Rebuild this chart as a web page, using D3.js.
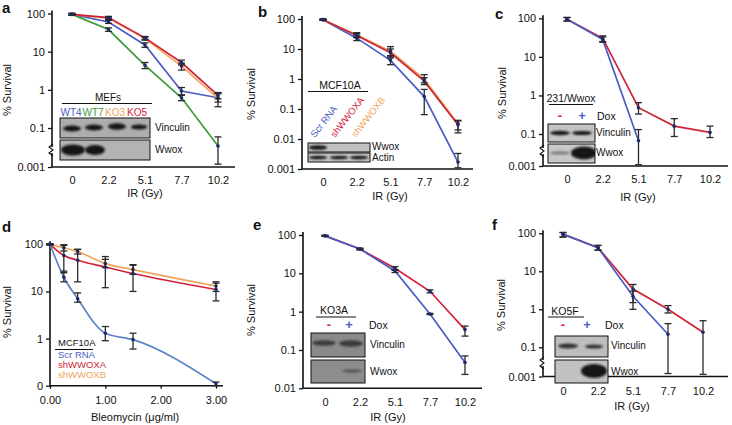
<!DOCTYPE html>
<html><head><meta charset="utf-8">
<script src="https://cdn.jsdelivr.net/npm/d3@7"></script>
<style>body{margin:0;background:#fff}svg{display:block}text{font-family:"Liberation Sans",Arial,sans-serif}</style>
</head><body><svg id="c" width="732" height="425"></svg>
<script>
// ---------- data ----------
const irDoses = ["0","2.2","5.1","7.7","10.2"];
const bleoDoses = [0, 0.25, 0.5, 1, 1.5, 3];

const yTicksBreak = [100, 10, 1, 0.1, 0.001];
const yLabelsBreak = ["100", "10", "1", "0.1", "0.001"];
const yTicksFull = [100, 10, 1, 0.1, 0.01, 0.001];
const yLabelsFull = ["100", "10", "1", "0.1", "0.01", "0.001"];
const yTicksE = [100, 10, 1, 0.1, 0.01];
const yLabelsE = ["100", "10", "1", "0.1", "0.01"];
const yTicksD = [100, 10, 1, 0.1];
const yLabelsD = ["100", "10", "1", "0"];
const xTicksD = [0, 1, 2, 3];
const xLabelsD = ["0.00", "1.00", "2.00", "3.00"];

// panel a (MEFs)
const aWT4 = [95, 60, 15, 0.93, 0.62];
const aWT4Err = [[90,100],[55,66],[13,17],[0.72,1.15],[0.48,0.8]];
const aWT7 = [95, 38, 4.4, 0.62, 0.012];
const aWT7Err = [[90,100],[34,42],[3.6,5.2],[0.52,0.74],[0.0014,0.035]];
const aKO3 = [95, 75, 22, 4.2, 0.6];
const aKO3Err = [[90,100],[70,80],[20,24],[3.3,5],[0.36,0.8]];
const aKO5 = [95, 78, 23, 5.2, 0.72];
const aKO5Err = [[90,100],[72,84],[21,25],[4.5,6],[0.58,0.85]];

// panel b (MCF10A)
const bScr = [95, 23, 4.2, 0.26, 0.0017];
const bScrErr = [[91,99],[19,29],[3,5.5],[0.065,0.45],[0.0011,0.0033]];
const bShA = [95, 28, 7.5, 0.85, 0.03];
const bShAErr = [[91,99],[24,33],[5,10],[0.65,1.1],[0.016,0.04]];
const bShB = [95, 30, 8.5, 1.0, 0.032];
const bShBErr = [[91,99],[25,35],[6,12],[0.75,1.4],[0.02,0.042]];

// panel c (231/Wwox)
const cMinus = [95, 30, 0.48, 0.16, 0.11];
const cMinusErr = [[85,105],[25,35],[0.33,0.65],[0.07,0.25],[0.06,0.16]];
const cPlus = [95, 28, 0.038, null, null];
const cPlusErr = [[85,105],[24,33],[0.0012,0.13],null,null];

// panel d (bleomycin)
const dScr = [100, 20, 7, 1.3, 0.95, 0.11];
const dScrErr = [[98,102],[16,27],[5.9,9.3],[0.9,1.8],[0.6,1.3],[0.1,0.12]];
const dShA = [100, 58, 46, 33, 24, 11];
const dShAErr = [[98,102],[25,95],[16,78],[12,55],[10,37],[6.3,15]];
const dShB = [100, 85, 70, 39, 29, 13];
const dShBErr = [[98,102],[72,98],[62,78],[32,48],[23,36],[10,16]];

// panel e (KO3A)
const eMinus = [95, 43, 13.5, 3.4, 0.34];
const eMinusErr = [[92,98],[41,45],[12,15],[3.1,3.7],[0.23,0.42]];
const ePlus = [95, 43, 11.5, 0.87, 0.047];
const ePlusErr = [[92,98],[41,45],[10.5,12.5],[0.84,0.9],[0.023,0.07]];

// panel f (KO5F)
const fMinus = [95, 42, 3.4, 1.0, 0.25];
const fMinusErr = [[80,105],[36,48],[1.0,4.5],[0.8,1.25],[0.0014,0.5]];
const fPlus = [95, 42, 2.2, 0.22, null];
const fPlusErr = [[80,105],[36,48],[1.5,3],[0.0016,0.42],null];

// ---------- styles ----------
const BLUE = "#4a5cc0", RED = "#d02338", ORANGE = "#f0a55c", GREEN = "#3d9a3d";
const INK = "#111";

const svg = d3.select("#c");
const defs = svg.append("defs");
defs.append("filter").attr("id","blur").attr("x","-50%").attr("y","-100%").attr("width","200%").attr("height","300%")
  .append("feGaussianBlur").attr("stdDeviation", 1.1);

function drawPanel(p) {
  const g = svg.append("g");
  const y = d3.scaleLog().domain(p.yDomain).range(p.yRange);
  const x = p.linear
    ? d3.scaleLinear().domain([0, 3]).range(p.xRange)
    : d3.scalePoint().domain(irDoses).range(p.xRange);
  const xs = p.linear ? bleoDoses : irDoses;
  const yBot = p.yRange[0], yTop = p.yRange[p.yRange.length - 1];

  const ya = g.append("g").attr("transform", `translate(${p.ax},0)`)
    .call(d3.axisLeft(y).tickValues(p.yTicks).tickFormat((d, i) => p.yLabels[i]).tickSize(4).tickPadding(3));
  ya.select(".domain").remove();
  ya.selectAll("text").attr("font-size", 11).attr("fill", INK).attr("font-family", "Liberation Sans, Arial, sans-serif");
  ya.selectAll("line").attr("stroke", INK).attr("stroke-width", 1.3);
  g.append("line").attr("x1", p.ax).attr("x2", p.ax).attr("y1", yTop - 3).attr("y2", yBot)
    .attr("stroke", INK).attr("stroke-width", 1.6);

  g.append("line").attr("x1", p.ax).attr("x2", p.xEnd).attr("y1", yBot).attr("y2", yBot)
    .attr("stroke", INK).attr("stroke-width", 1.6);
  let xAxis = d3.axisBottom(x).tickSize(p.linear ? 3 : 0).tickPadding(p.xPad);
  if (p.linear) xAxis = xAxis.tickValues(xTicksD).tickFormat((d, i) => xLabelsD[i]);
  const xa = g.append("g").attr("transform", `translate(0,${yBot})`).call(xAxis);
  xa.select(".domain").remove();
  xa.selectAll("text").attr("font-size", 11).attr("fill", INK).attr("font-family", "Liberation Sans, Arial, sans-serif");
  xa.selectAll("line").attr("stroke", INK).attr("stroke-width", 1.3);

  g.append("text").attr("x", p.xTitle[0]).attr("y", p.xTitle[1]).attr("text-anchor", "middle")
    .attr("dominant-baseline", "middle").attr("font-size", 11).attr("fill", INK).text(p.xTitleText);
  g.append("text").attr("transform", `translate(${p.yTitle[0]},${p.yTitle[1]}) rotate(-90)`)
    .attr("text-anchor", "middle").attr("dominant-baseline", "middle").attr("font-size", 11).attr("fill", INK)
    .text("% Survival");
  g.append("text").attr("x", p.label[0]).attr("y", p.label[1]).attr("font-size", 15)
    .attr("font-weight", "bold").attr("fill", INK).text(p.labelText);

  if (p.breakY) {
    const by = p.breakY, bx = p.ax;
    g.append("rect").attr("x", bx - 2).attr("y", by - 3).attr("width", 4).attr("height", 6).attr("fill", "#fff");
    g.append("path").attr("d", `M${bx+1},${by-6} L${bx-3},${by-3} L${bx+1},${by} L${bx-3},${by+3} L${bx+1},${by+6}`)
      .attr("fill", "none").attr("stroke", INK).attr("stroke-width", 1.1);
  }

  if (p.inset) p.inset(g);

  p.series.forEach(s => {
    const pts = xs.map((xv, i) => ({ x: xv, v: s.vals[i], e: s.err[i] })).filter(d => d.v != null);
    const line = d3.line().x(d => x(d.x)).y(d => y(d.v)).curve(p.curve || d3.curveLinear);
    g.append("path").attr("d", line(pts)).attr("fill", "none").attr("stroke", s.color).attr("stroke-width", 1.7);
    s._pts = pts;
  });
  p.series.forEach(s => {
    s._pts.forEach(d => {
      if (!d.e) return;
      const cx = x(d.x), y1 = y(d.e[0]), y2 = y(d.e[1]);
      g.append("line").attr("x1", cx).attr("x2", cx).attr("y1", y1).attr("y2", y2).attr("stroke", "#2a2a2a").attr("stroke-width", 1.3);
      [y1, y2].forEach(yy => g.append("line").attr("x1", cx - 3.5).attr("x2", cx + 3.5).attr("y1", yy).attr("y2", yy)
        .attr("stroke", "#2a2a2a").attr("stroke-width", 1.3));
    });
    g.selectAll(null).data(s._pts).enter().append("circle")
      .attr("cx", d => x(d.x)).attr("cy", d => y(d.v)).attr("r", 1.8).attr("fill", s.dot || "#1d2a6a");
  });
}

let clipId = 0;
function blot(g, b) {
  const id = "clip" + (clipId++);
  defs.append("clipPath").attr("id", id).append("rect").attr("x", b.x).attr("y", b.y).attr("width", b.w).attr("height", b.h);
  g.append("rect").attr("x", b.x).attr("y", b.y).attr("width", b.w).attr("height", b.h).attr("fill", b.fill || "#b8b8b8");
  const bg = g.append("g").attr("clip-path", `url(#${id})`);
  b.bands.forEach(d => bg.append("ellipse").attr("cx", d.x).attr("cy", d.y).attr("rx", d.rx).attr("ry", d.ry)
    .attr("fill", d.c || "#151515").attr("filter", "url(#blur)"));
  g.append("rect").attr("x", b.x).attr("y", b.y).attr("width", b.w).attr("height", b.h)
    .attr("fill", "none").attr("stroke", INK).attr("stroke-width", 1);
  g.append("text").attr("x", b.lx).attr("y", b.ly).attr("dominant-baseline", "middle").attr("font-size", 10)
    .attr("fill", INK).text(b.label);
}
function txt(g, t, x, y, opts = {}) {
  return g.append("text").attr("x", x).attr("y", y).attr("dominant-baseline", "middle")
    .attr("text-anchor", opts.anchor || "middle").attr("font-size", opts.size || 10)
    .attr("fill", opts.color || INK).text(t);
}
function hline(g, x1, x2, y) {
  g.append("line").attr("x1", x1).attr("x2", x2).attr("y1", y).attr("y2", y).attr("stroke", INK).attr("stroke-width", 1);
}
function dox(g, xm, xp, xd, y) {
  txt(g, "-", xm, y, { color: RED, size: 13 }).attr("font-weight", "bold");
  txt(g, "+", xp, y, { color: BLUE, size: 13 }).attr("font-weight", "bold");
  txt(g, "Dox", xd, y, { anchor: "start", size: 10.5 });
}

// ---------- panels ----------
drawPanel({
  labelText: "a", label: [2, 13], ax: 52,
  yDomain: [0.001, 0.1, 100], yRange: [167, 128, 13.5], yTicks: yTicksBreak, yLabels: yLabelsBreak,
  xRange: [72, 218], xEnd: 235, xPad: 9, xTitle: [145, 194], xTitleText: "IR (Gy)", yTitle: [8, 90], breakY: 150,
  series: [
    { vals: aWT4, err: aWT4Err, color: BLUE },
    { vals: aWT7, err: aWT7Err, color: GREEN },
    { vals: aKO3, err: aKO3Err, color: ORANGE },
    { vals: aKO5, err: aKO5Err, color: RED }
  ],
  inset: g => {
    txt(g, "MEFs", 108, 98, { size: 10 });
    hline(g, 62, 152, 103.5);
    [["WT4", 71, BLUE], ["WT7", 93, GREEN], ["KO3", 115, ORANGE], ["KO5", 137, RED]]
      .forEach(([t, x, c]) => txt(g, t, x, 113, { color: c, size: 10 }));
    blot(g, { x: 60, y: 118, w: 90, h: 20, fill: "#adadad", label: "Vinculin", lx: 155, ly: 128,
      bands: [{ x: 72, y: 128.5, rx: 9, ry: 3 }, { x: 94, y: 127.5, rx: 9, ry: 3 }, { x: 117, y: 126.5, rx: 9, ry: 3.2 }, { x: 139, y: 127, rx: 8, ry: 2.5 }] });
    blot(g, { x: 60, y: 140, w: 90, h: 20, fill: "#b3b3b3", label: "Wwox", lx: 155, ly: 150,
      bands: [{ x: 73, y: 150, rx: 12, ry: 5.5 }, { x: 95, y: 150, rx: 10, ry: 5 }] });
  }
});

drawPanel({
  labelText: "b", label: [258, 17], ax: 302,
  yDomain: [0.001, 100], yRange: [169, 19], yTicks: yTicksFull, yLabels: yLabelsFull,
  xRange: [323, 458], xEnd: 473, xPad: 9, xTitle: [390, 197], xTitleText: "IR (Gy)", yTitle: [252, 94],
  series: [
    { vals: bScr, err: bScrErr, color: BLUE },
    { vals: bShB, err: bShBErr, color: ORANGE },
    { vals: bShA, err: bShAErr, color: RED }
  ],
  inset: g => {
    txt(g, "MCF10A", 340, 86, { size: 10.5 });
    hline(g, 308, 368, 91.5);
    [["Scr RNA", 315, BLUE], ["shWWOXA", 335, RED], ["shWWOXB", 356, ORANGE]].forEach(([t, x, c]) =>
      g.append("text").attr("transform", `translate(${x},138) rotate(-52)`).attr("font-size", 9.5).attr("fill", c).text(t));
    blot(g, { x: 308, y: 143, w: 62, h: 9, fill: "#c2c2c2", label: "Wwox", lx: 372, ly: 147.5,
      bands: [{ x: 318, y: 147.5, rx: 9, ry: 2.3 }] });
    blot(g, { x: 308, y: 153, w: 62, h: 9, fill: "#c2c2c2", label: "Actin", lx: 372, ly: 158,
      bands: [{ x: 318, y: 157.5, rx: 9, ry: 1.8 }, { x: 339, y: 157.5, rx: 9, ry: 1.8 }, { x: 359, y: 157.5, rx: 9, ry: 1.8 }] });
  }
});

drawPanel({
  labelText: "c", label: [495, 19], ax: 543,
  yDomain: [0.001, 0.1, 100], yRange: [166, 134, 18.3], yTicks: yTicksBreak, yLabels: yLabelsBreak,
  xRange: [567, 710], xEnd: 728, xPad: 9, xTitle: [638, 198], xTitleText: "IR (Gy)", yTitle: [503, 93], breakY: 151,
  series: [
    { vals: cMinus, err: cMinusErr, color: RED },
    { vals: cPlus, err: cPlusErr, color: BLUE }
  ],
  inset: g => {
    txt(g, "231/Wwox", 571, 99.5, { size: 10.5 });
    hline(g, 549, 593, 104.5);
    dox(g, 560, 582, 597, 117);
    blot(g, { x: 548, y: 124, w: 47, h: 18, fill: "#c4c4c4", label: "Vinculin", lx: 596, ly: 133,
      bands: [{ x: 560, y: 133, rx: 10, ry: 2.2 }, { x: 582, y: 133, rx: 10, ry: 2 }] });
    blot(g, { x: 548, y: 144, w: 47, h: 19, fill: "#c8c8c8", label: "Wwox", lx: 596, ly: 153,
      bands: [{ x: 560, y: 153, rx: 10, ry: 1.6, c: "#7a7a7a" }, { x: 584, y: 153, rx: 13, ry: 6.5 }] });
  }
});

drawPanel({
  labelText: "d", label: [2, 232], ax: 50, linear: true, curve: d3.curveMonotoneX,
  yDomain: [0.1, 100], yRange: [385.7, 244.3], yTicks: yTicksD, yLabels: yLabelsD,
  xRange: [50, 216], xEnd: 223, xPad: 8, xTitle: [135, 418], xTitleText: "Bleomycin (μg/ml)", yTitle: [8, 312],
  series: [
    { vals: dShB, err: dShBErr, color: ORANGE },
    { vals: dShA, err: dShAErr, color: RED },
    { vals: dScr, err: dScrErr, color: "#5b86c8" }
  ],
  inset: g => {
    txt(g, "MCF10A", 58, 343, { anchor: "start", size: 9.5 });
    hline(g, 55, 93, 349.5);
    txt(g, "Scr RNA", 58, 355.5, { anchor: "start", size: 9.5, color: BLUE });
    txt(g, "shWWOXA", 58, 365.5, { anchor: "start", size: 9.5, color: RED });
    txt(g, "shWWOXB", 58, 375.5, { anchor: "start", size: 9.5, color: ORANGE });
  }
});

drawPanel({
  labelText: "e", label: [253, 230], ax: 303,
  yDomain: [0.01, 100], yRange: [388.3, 235], yTicks: yTicksE, yLabels: yLabelsE,
  xRange: [325, 465], xEnd: 482, xPad: 10, xTitle: [388, 418], xTitleText: "IR (Gy)", yTitle: [252, 310],
  series: [
    { vals: eMinus, err: eMinusErr, color: RED },
    { vals: ePlus, err: ePlusErr, color: BLUE }
  ],
  inset: g => {
    txt(g, "KO3A", 334, 311, { size: 10.5 });
    hline(g, 316, 356, 317);
    dox(g, 329, 349, 369, 326);
    blot(g, { x: 311, y: 333, w: 54, h: 24, fill: "#8a8a8a", label: "Vinculin", lx: 370, ly: 345,
      bands: [{ x: 324, y: 343, rx: 12, ry: 2.8, c: "#3a3a3a" }, { x: 351, y: 343.5, rx: 12, ry: 3.2, c: "#3a3a3a" }] });
    blot(g, { x: 311, y: 360, w: 54, h: 23, fill: "#8d8d8d", label: "Wwox", lx: 370, ly: 372,
      bands: [{ x: 352, y: 371, rx: 10, ry: 1.8, c: "#5a5a5a" }] });
  }
});

drawPanel({
  labelText: "f", label: [492, 230], ax: 543,
  yDomain: [0.001, 0.1, 100], yRange: [376.5, 347.3, 233.3], yTicks: yTicksBreak, yLabels: yLabelsBreak,
  xRange: [563, 703], xEnd: 728, xPad: 11, xTitle: [632, 407], xTitleText: "IR (Gy)", yTitle: [502, 305], breakY: 363,
  series: [
    { vals: fMinus, err: fMinusErr, color: RED },
    { vals: fPlus, err: fPlusErr, color: BLUE }
  ],
  inset: g => {
    txt(g, "KO5F", 565, 312, { size: 10.5 });
    hline(g, 548, 584, 317);
    dox(g, 563, 587, 605, 326);
    blot(g, { x: 555, y: 336, w: 53, h: 21, fill: "#bdbdbd", label: "Vinculin", lx: 611, ly: 346,
      bands: [{ x: 568, y: 346, rx: 10, ry: 2.4, c: "#333" }, { x: 594, y: 346.5, rx: 9, ry: 2, c: "#333" }] });
    blot(g, { x: 555, y: 360, w: 53, h: 23, fill: "#c2c2c2", label: "Wwox", lx: 611, ly: 372,
      bands: [{ x: 594, y: 371, rx: 13, ry: 7 }] });
  }
});
</script>
</body></html>
